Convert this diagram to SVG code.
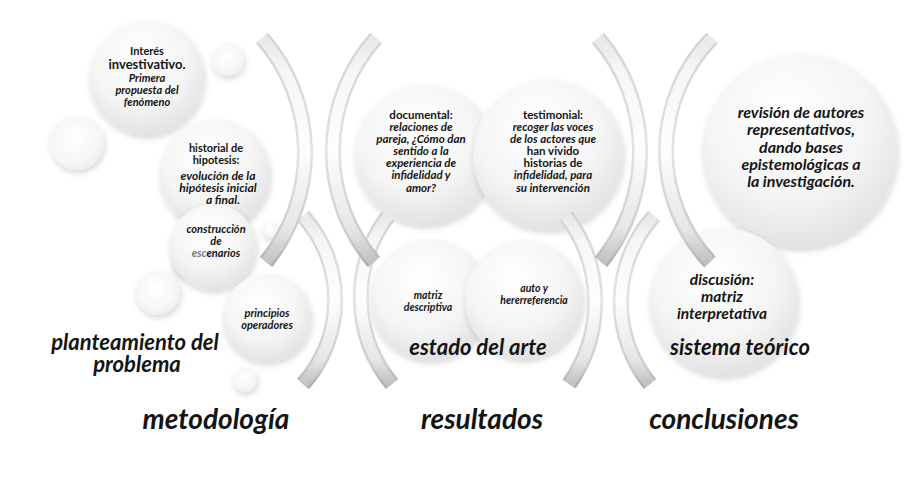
<svg xmlns="http://www.w3.org/2000/svg" width="908" height="477" viewBox="0 0 908 477">
<defs>
<radialGradient id="cg" cx="0.45" cy="0.35" r="0.75" fx="0.42" fy="0.3">
<stop offset="0" stop-color="#ffffff"/>
<stop offset="0.55" stop-color="#f5f5f5"/>
<stop offset="0.87" stop-color="#e3e3e3"/>
<stop offset="1" stop-color="#d3d3d3"/>
</radialGradient>
<radialGradient id="cs" cx="0.45" cy="0.4" r="0.7">
<stop offset="0" stop-color="#ffffff"/>
<stop offset="0.7" stop-color="#f5f5f5"/>
<stop offset="1" stop-color="#e6e6e6"/>
</radialGradient>
<linearGradient id="ao" x1="0" y1="0" x2="0" y2="1">
<stop offset="0" stop-color="#d4d4d4"/>
<stop offset="0.5" stop-color="#e2e2e2"/>
<stop offset="0.9" stop-color="#cccccc"/>
<stop offset="1" stop-color="#b0b0b0"/>
</linearGradient>
<linearGradient id="ai" x1="0" y1="0" x2="0" y2="1">
<stop offset="0" stop-color="#e8e8e8"/>
<stop offset="0.15" stop-color="#f6f6f6"/>
<stop offset="0.5" stop-color="#fdfdfd"/>
<stop offset="0.85" stop-color="#e6e6e6"/>
<stop offset="1" stop-color="#c2c2c2"/>
</linearGradient>
<filter id="sh" x="-20%" y="-20%" width="140%" height="150%">
<feDropShadow dx="1" dy="3" stdDeviation="3" flood-color="#000" flood-opacity="0.16"/>
</filter>
</defs>
<style>
.c{fill:url(#cg);filter:url(#sh)}
.s{fill:url(#cs);filter:url(#sh)}
.ao{fill:none;stroke:url(#ao);stroke-width:16}
.ai{fill:none;stroke:url(#ai);stroke-width:11}
text{font-family:Lato,"Liberation Sans",sans-serif;font-weight:bold;fill:#141414;text-anchor:middle}
.i{font-style:italic}
.t11{font-size:11px}
.t115{font-size:11.5px}
.big{font-size:22px;font-style:italic}
.huge{font-size:28px;font-style:italic}
</style>
<rect width="908" height="477" fill="#ffffff"/>

<g id="deco">
<circle class="s" cx="228" cy="60" r="16"/>
<circle class="s" cx="77" cy="143" r="27"/>
<circle class="s" cx="158" cy="293" r="22"/>
<circle class="s" cx="245" cy="380" r="12"/>
<circle class="s" cx="187" cy="262" r="14"/>
<circle class="s" cx="270" cy="230" r="8"/>
</g>

<g id="n-interes">
<circle class="c" cx="147" cy="78" r="57"/>
<text class="t11" x="147" y="55">Interés</text>
<text x="147" y="69" font-size="13">investivativo.</text>
<text class="t11 i" x="147" y="82">Primera</text>
<text class="t11 i" x="147" y="94">propuesta del</text>
<text class="t11 i" x="147" y="106">fenómeno</text>
</g>

<g id="n-historial">
<circle class="c" cx="215" cy="175" r="55"/>
<text class="t11" x="216" y="152">historial de</text>
<text class="t11" x="216" y="164">hipotesis:</text>
<text class="i" x="218" y="180" font-size="12">evolución de la</text>
<text class="i" x="218" y="192" font-size="12">hipótesis inicial</text>
<text class="i" x="223" y="204" font-size="12">a final.</text>
</g>

<g id="n-construccion">
<circle class="c" cx="213" cy="247" r="43"/>
<text class="t11 i" x="216" y="233">construcción</text>
<text class="t11 i" x="216" y="245">de</text>
<text class="t11 i" x="216" y="257"><tspan fill="#7a7a7a">esc</tspan>enarios</text>
</g>

<g id="n-principios">
<circle class="c" cx="267" cy="318" r="44"/>
<text class="t11 i" x="267" y="317">principios</text>
<text class="t11 i" x="267" y="329">operadores</text>
</g>

<g id="n-documental">
<circle class="c" cx="425" cy="155" r="70"/>
<text class="t115" x="421" y="119">documental:</text>
<text class="t115 i" x="421" y="131">relaciones de</text>
<text class="t115 i" x="421" y="143">pareja, ¿Cómo dan</text>
<text class="t115 i" x="421" y="155">sentido a la</text>
<text class="t115 i" x="421" y="167">experiencia de</text>
<text class="t115 i" x="421" y="179">infidelidad y</text>
<text class="t115 i" x="421" y="192">amor?</text>
</g>

<g id="n-testimonial">
<circle class="c" cx="548" cy="155" r="75"/>
<text class="t115" x="553" y="119">testimonial:</text>
<text class="t115 i" x="553" y="131">recoger las voces</text>
<text class="t115 i" x="553" y="143">de los actores que</text>
<text class="t115" x="553" y="155">han vivido</text>
<text class="t115" x="553" y="167">historias de</text>
<text class="t115 i" x="553" y="179">infidelidad, para</text>
<text class="t115 i" x="553" y="192">su intervención</text>
</g>

<g id="n-matriz">
<circle class="c" cx="430" cy="300" r="60"/>
<text class="i" x="428" y="299" font-size="10.5">matriz</text>
<text class="i" x="428" y="311" font-size="10.5">descriptiva</text>
</g>

<g id="n-auto">
<circle class="c" cx="524" cy="300" r="59"/>
<text class="i" x="534" y="292" font-size="10.5">auto y</text>
<text class="i" x="534" y="304" font-size="10.5">hererreferencia</text>
</g>

<g id="n-revision">
<circle class="c" cx="800" cy="151" r="97"/>
<text class="i" x="801" y="118" font-size="16">revisión de autores</text>
<text class="i" x="801" y="135" font-size="16">representativos,</text>
<text class="i" x="801" y="153" font-size="16">dando bases</text>
<text class="i" x="801" y="170" font-size="16">epistemológicas a</text>
<text class="i" x="801" y="187" font-size="16">la investigación.</text>
</g>

<g id="n-discusion">
<circle class="c" cx="724" cy="302" r="74"/>
<text class="i" x="722" y="285" font-size="15.5">discusión:</text>
<text class="i" x="722" y="302" font-size="15.5">matriz</text>
<text class="i" x="722" y="319" font-size="15.5">interpretativa</text>
</g>

<g id="connectors">
<path class="ao" d="M303,216 A126,126 0 0 1 303,384"/>
<path class="ai" d="M303,216 A126,126 0 0 1 303,384"/>
<path class="ao" d="M388,216 A136,136 0 0 0 392,384"/>
<path class="ai" d="M388,216 A136,136 0 0 0 392,384"/>
<path class="ao" d="M566,216 A142,142 0 0 1 569,384"/>
<path class="ai" d="M566,216 A142,142 0 0 1 569,384"/>
<path class="ao" d="M654,216 A129,129 0 0 0 650,384"/>
<path class="ai" d="M654,216 A129,129 0 0 0 650,384"/>
<path class="ao" d="M262,38 A173.5,173.5 0 0 1 266,262"/>
<path class="ai" d="M262,38 A173.5,173.5 0 0 1 266,262"/>
<path class="ao" d="M376,38 A170,170 0 0 0 374,262"/>
<path class="ai" d="M376,38 A170,170 0 0 0 374,262"/>
<path class="ao" d="M598,38 A175,175 0 0 1 601,262"/>
<path class="ai" d="M598,38 A175,175 0 0 1 601,262"/>
<path class="ao" d="M712,38 A162,162 0 0 0 710,262"/>
<path class="ai" d="M712,38 A162,162 0 0 0 710,262"/>
</g>

<g id="labels">
<text class="big" x="135" y="350">planteamiento del</text>
<text class="big" x="137" y="372">problema</text>
<text class="big" x="478" y="355">estado del arte</text>
<text class="big" x="740" y="355">sistema teórico</text>
<text class="huge" x="216" y="429">metodología</text>
<text class="huge" x="482" y="429">resultados</text>
<text class="huge" x="724" y="429">conclusiones</text>
</g>
</svg>
